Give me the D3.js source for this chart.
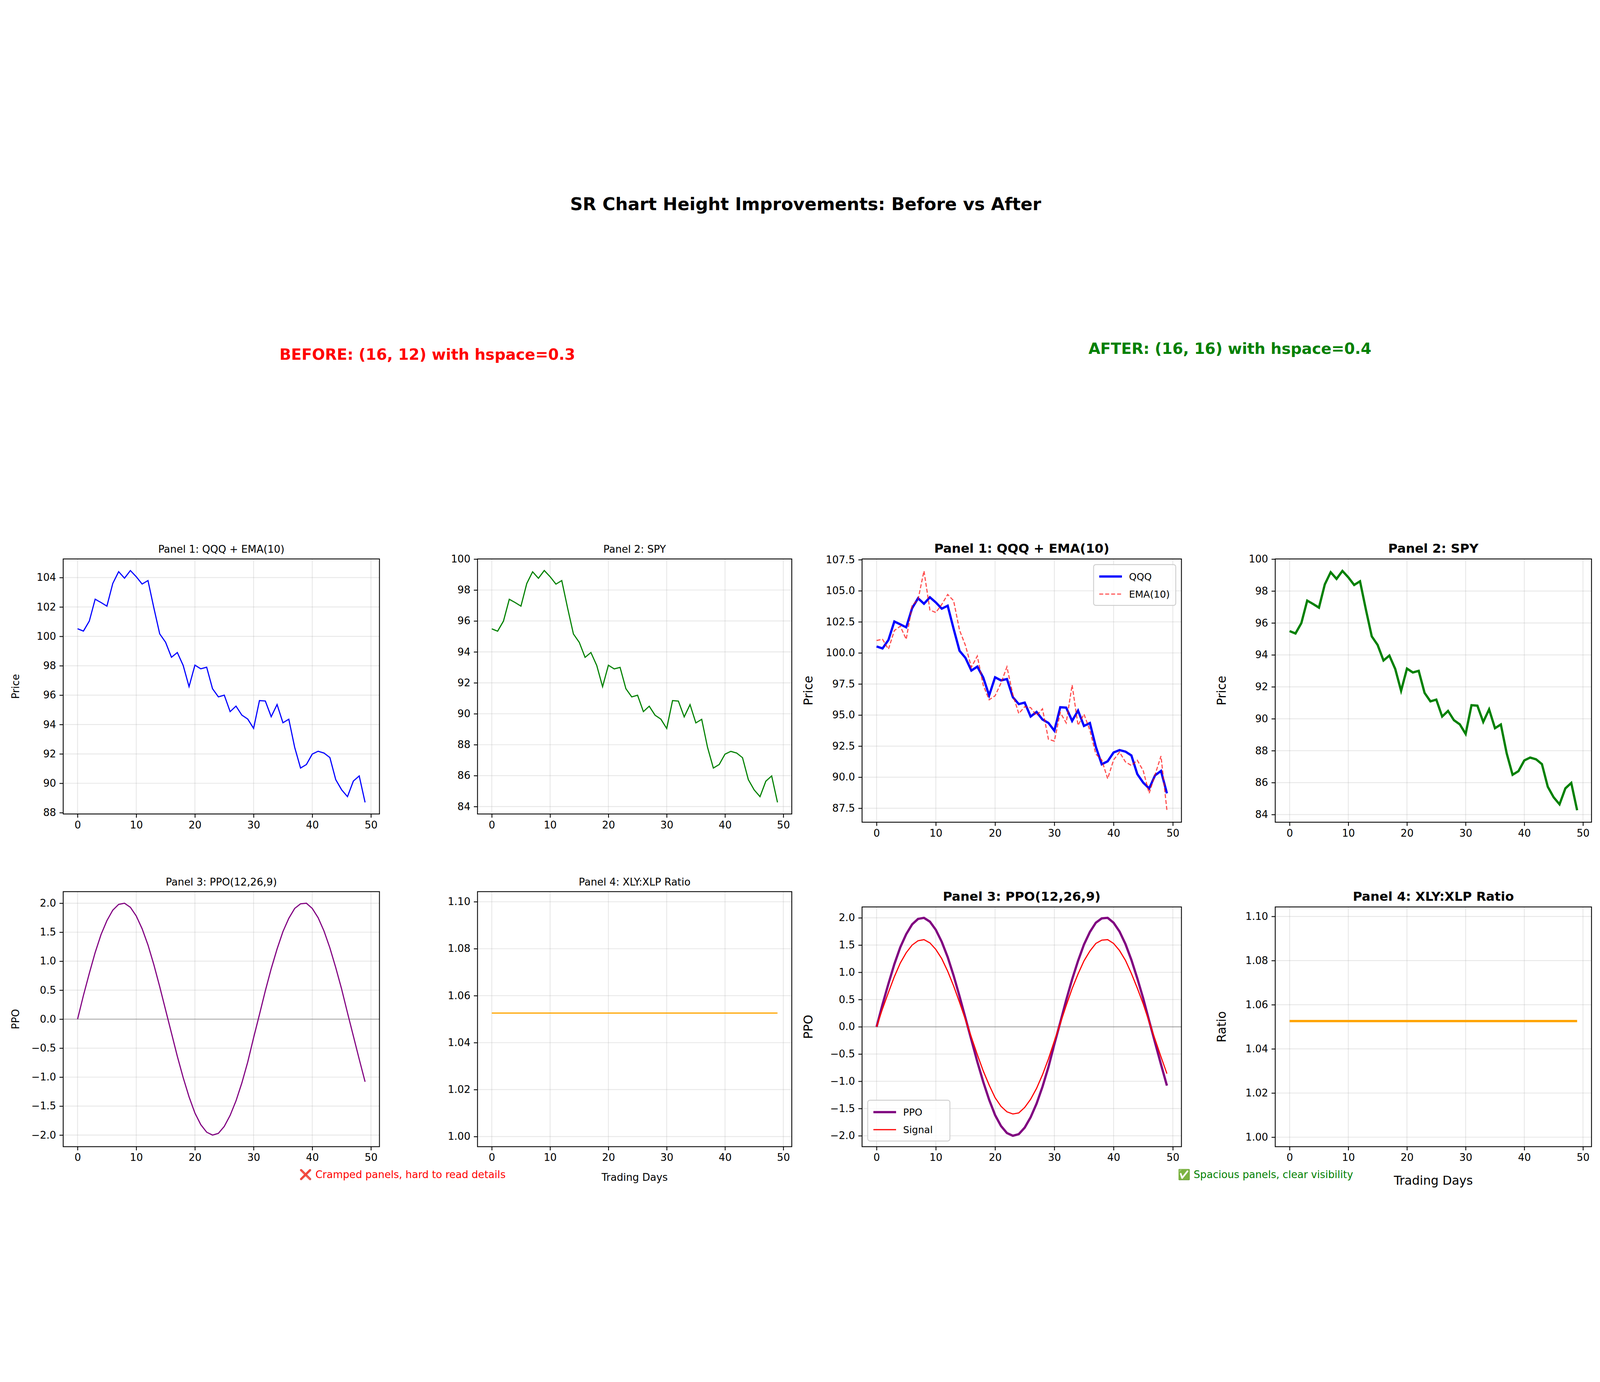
<!DOCTYPE html>
<html lang="en">
<head>
  <meta charset="UTF-8">
  <title>SR Chart Height Improvements</title>
  <script src="https://d3js.org/d3.v7.min.js"></script>
  <style>
    html, body { margin: 0; padding: 0; background: #fff; overflow: hidden; font-family: "DejaVu Sans", sans-serif; }
    svg { display: block; width: 100vw; height: 100vh; }
    .grid line { stroke: #b0b0b0; stroke-opacity: 0.3; stroke-width: 3; }
    .axis path, .axis line { stroke: #000; stroke-width: 3; }
    .axis text { font-family: "DejaVu Sans", sans-serif; fill: #000; }
  </style>
</head>
<body>
  <script>
    // ---- data ----
    const days = d3.range(50);
    const qqq = [100.52,100.36,101.04,102.53,102.3,102.06,103.6,104.4,103.96,104.48,
      104.06,103.56,103.8,101.94,100.17,99.6,98.58,98.9,98.02,96.58,
      98.04,97.79,97.9,96.44,95.88,96.0,94.88,95.25,94.64,94.37,
      93.74,95.63,95.6,94.53,95.36,94.12,94.36,92.45,91.04,91.28,
      91.99,92.18,92.06,91.75,90.25,89.56,89.09,90.15,90.5,88.7];
    const ema10 = [101.0,101.1,100.3,101.8,102.15,101.1,103.8,104.3,106.6,103.45,
      103.25,103.9,104.7,104.2,101.83,100.6,98.85,99.75,97.4,96.23,
      96.55,97.58,98.88,96.63,95.12,95.67,95.6,94.96,95.5,93.06,
      92.9,95.2,94.37,97.42,94.17,95.07,93.77,91.87,91.39,89.88,
      91.39,92.02,91.23,90.94,91.36,90.52,88.7,90.2,91.7,87.34];
    const spy = [95.49,95.34,95.99,97.4,97.19,96.96,98.42,99.18,98.76,99.26,
      98.86,98.38,98.61,96.84,95.16,94.62,93.65,93.96,93.12,91.75,
      93.14,92.9,93.0,91.62,91.09,91.2,90.14,90.49,89.91,89.65,
      89.05,90.85,90.82,89.8,90.59,89.41,89.64,87.83,86.49,86.72,
      87.39,87.57,87.46,87.16,85.74,85.08,84.64,85.64,85.98,84.27];
    const ppo = [0,0.41,0.79,1.15,1.46,1.70,1.88,1.98,2.00,1.93,
      1.78,1.56,1.28,0.94,0.56,0.16,-0.24,-0.64,-1.01,-1.34,
      -1.62,-1.82,-1.95,-2.00,-1.97,-1.85,-1.66,-1.41,-1.10,-0.74,
      -0.32,0.08,0.49,0.87,1.21,1.51,1.74,1.91,1.99,2.00,
      1.91,1.75,1.52,1.23,0.89,0.52,0.11,-0.29,-0.69,-1.08];
    const ppoSignal = [0,0.33,0.63,0.92,1.17,1.36,1.50,1.58,1.60,1.54,
      1.42,1.25,1.02,0.75,0.45,0.13,-0.19,-0.51,-0.81,-1.07,
      -1.30,-1.46,-1.56,-1.60,-1.58,-1.48,-1.33,-1.13,-0.88,-0.59,
      -0.26,0.06,0.39,0.70,0.97,1.21,1.39,1.53,1.59,1.60,
      1.53,1.40,1.22,0.98,0.71,0.42,0.09,-0.23,-0.55,-0.86];
    const ratio = [1.0526,1.0526,1.0526,1.0526,1.0526,1.0526,1.0526,1.0526,1.0526,1.0526,
      1.0526,1.0526,1.0526,1.0526,1.0526,1.0526,1.0526,1.0526,1.0526,1.0526,
      1.0526,1.0526,1.0526,1.0526,1.0526,1.0526,1.0526,1.0526,1.0526,1.0526,
      1.0526,1.0526,1.0526,1.0526,1.0526,1.0526,1.0526,1.0526,1.0526,1.0526,
      1.0526,1.0526,1.0526,1.0526,1.0526,1.0526,1.0526,1.0526,1.0526,1.0526];
    const xTicks = [0, 10, 20, 30, 40, 50];

    const W = 5646, H = 3538;
    const svg = d3.select("body").append("svg")
      .attr("viewBox", `0 0 ${W} ${H}`)
      .attr("preserveAspectRatio", "xMidYMid meet")
      .style("font-family", "'DejaVu Sans', sans-serif");

    // padded extent like matplotlib autoscale
    function padded(arrays) {
      const lo = d3.min(arrays, a => d3.min(a)), hi = d3.max(arrays, a => d3.max(a));
      const m = (hi - lo) * 0.05;
      return [lo - m, hi + m];
    }

    function panel(o) {
      const w = o.x1 - o.x0, h = o.y1 - o.y0;
      const g = svg.append("g").attr("transform", `translate(${o.x0},${o.y0})`);
      const x = d3.scaleLinear().domain([-2.45, 51.45]).range([0, w]);
      const y = d3.scaleLinear().domain(o.domain).range([h, 0]);

      g.append("g").attr("class", "grid").selectAll("line").data(xTicks).join("line")
        .attr("x1", d => x(d)).attr("x2", d => x(d)).attr("y1", 0).attr("y2", h);
      g.append("g").attr("class", "grid").selectAll("line").data(o.yTicks).join("line")
        .attr("x1", 0).attr("x2", w).attr("y1", d => y(d)).attr("y2", d => y(d));

      if (o.zero) {
        g.append("line").attr("x1", 0).attr("x2", w).attr("y1", y(0)).attr("y2", y(0))
          .attr("stroke", "gray").attr("stroke-opacity", 0.5).attr("stroke-width", 4);
      }

      const line = d3.line().x((d, i) => x(i)).y(d => y(d));
      o.series.forEach(s => {
        g.append("path").datum(s.data).attr("d", line).attr("fill", "none")
          .attr("stroke", s.color).attr("stroke-width", s.width)
          .attr("stroke-opacity", s.opacity || 1)
          .attr("stroke-dasharray", s.dash || null);
      });

      const xa = g.append("g").attr("class", "axis").attr("transform", `translate(0,${h})`)
        .call(d3.axisBottom(x).tickValues(xTicks).tickSize(13).tickPadding(12));
      const ya = g.append("g").attr("class", "axis")
        .call(d3.axisLeft(y).tickValues(o.yTicks).tickFormat(d3.format(o.fmt)).tickSize(13).tickPadding(12));
      [xa, ya].forEach(a => { a.select(".domain").remove(); a.selectAll("text").attr("font-size", 36); });

      g.append("rect").attr("width", w).attr("height", h).attr("fill", "none")
        .attr("stroke", "#000").attr("stroke-width", 3);

      g.append("text").attr("x", w / 2).attr("y", -22).attr("text-anchor", "middle")
        .attr("font-size", o.big ? 45 : 36).attr("font-weight", o.big ? "bold" : "normal")
        .text(o.title);
      if (o.ylabel) {
        g.append("text").attr("transform", `translate(${o.big ? -175 : -155},${h / 2}) rotate(-90)`)
          .attr("text-anchor", "middle").attr("font-size", o.big ? 43 : 36).text(o.ylabel);
      }
      if (o.xlabel) {
        g.append("text").attr("x", w / 2).attr("y", h + (o.big ? 135 : 120)).attr("text-anchor", "middle")
          .attr("font-size", o.big ? 43 : 36).text(o.xlabel);
      }
      if (o.legend) {
        const lw = 290, lh = o.legend.items.length * 62 + 20;
        const lx = o.legend.pos === "ur" ? w - lw - 20 : 20;
        const ly = o.legend.pos === "ur" ? 20 : h - lh - 20;
        const lg = g.append("g").attr("transform", `translate(${lx},${ly})`);
        lg.append("rect").attr("width", lw).attr("height", lh).attr("rx", 8)
          .attr("fill", "#fff").attr("fill-opacity", 0.8).attr("stroke", "#ccc").attr("stroke-width", 3);
        o.legend.items.forEach((it, i) => {
          const cy = 42 + i * 62;
          lg.append("line").attr("x1", 20).attr("x2", 100).attr("y1", cy).attr("y2", cy)
            .attr("stroke", it.color).attr("stroke-width", it.width)
            .attr("stroke-opacity", it.opacity || 1).attr("stroke-dasharray", it.dash || null);
          lg.append("text").attr("x", 125).attr("y", cy + 12).attr("font-size", 34).text(it.label);
        });
      }
    }

    const tk = (a, b, s) => d3.range(a, b + s / 2, s);

    // titles
    svg.append("text").attr("x", W / 2 + 20).attr("y", 72).attr("text-anchor", "middle")
      .attr("font-size", 62).attr("font-weight", "bold").text("SR Chart Height Improvements: Before vs After");
    svg.append("text").attr("x", 1508).attr("y", 600).attr("text-anchor", "middle")
      .attr("font-size", 54).attr("font-weight", "bold").attr("fill", "red")
      .text("BEFORE: (16, 12) with hspace=0.3");
    svg.append("text").attr("x", 4340).attr("y", 580).attr("text-anchor", "middle")
      .attr("font-size", 54).attr("font-weight", "bold").attr("fill", "green")
      .text("AFTER: (16, 16) with hspace=0.4");

    // BEFORE
    panel({x0: 223, x1: 1339, y0: 1303, y1: 2203, title: "Panel 1: QQQ + EMA(10)", ylabel: "Price",
      domain: padded([qqq]), yTicks: tk(88, 104, 2), fmt: "d",
      series: [{data: qqq, color: "blue", width: 4}]});
    panel({x0: 1685, x1: 2794, y0: 1303, y1: 2203, title: "Panel 2: SPY",
      domain: padded([spy]), yTicks: tk(84, 100, 2), fmt: "d",
      series: [{data: spy, color: "green", width: 4}]});
    panel({x0: 223, x1: 1339, y0: 2477, y1: 3377, title: "Panel 3: PPO(12,26,9)", ylabel: "PPO",
      domain: padded([ppo]), yTicks: tk(-2, 2, 0.5), fmt: ".1f", zero: true,
      series: [{data: ppo, color: "purple", width: 4}]});
    panel({x0: 1685, x1: 2794, y0: 2477, y1: 3377, title: "Panel 4: XLY:XLP Ratio", xlabel: "Trading Days",
      domain: [0.9957, 1.1043], yTicks: tk(1.0, 1.1, 0.02), fmt: ".2f",
      series: [{data: ratio, color: "orange", width: 4}]});

    // AFTER
    panel({x0: 3042, x1: 4169, y0: 1303, y1: 2232, big: true, title: "Panel 1: QQQ + EMA(10)", ylabel: "Price",
      domain: padded([qqq, ema10]), yTicks: tk(87.5, 107.5, 2.5), fmt: ".1f",
      series: [{data: qqq, color: "blue", width: 8},
               {data: ema10, color: "red", width: 4, opacity: 0.7, dash: "14,7"}],
      legend: {pos: "ur", items: [{label: "QQQ", color: "blue", width: 8},
               {label: "EMA(10)", color: "red", width: 4, opacity: 0.7, dash: "14,7"}]}});
    panel({x0: 4500, x1: 5616, y0: 1303, y1: 2232, big: true, title: "Panel 2: SPY", ylabel: "Price",
      domain: padded([spy]), yTicks: tk(84, 100, 2), fmt: "d",
      series: [{data: spy, color: "green", width: 8}]});
    panel({x0: 3042, x1: 4169, y0: 2531, y1: 3377, big: true, title: "Panel 3: PPO(12,26,9)", ylabel: "PPO",
      domain: padded([ppo]), yTicks: tk(-2, 2, 0.5), fmt: ".1f", zero: true,
      series: [{data: ppo, color: "purple", width: 8}, {data: ppoSignal, color: "red", width: 4}],
      legend: {pos: "ll", items: [{label: "PPO", color: "purple", width: 8},
               {label: "Signal", color: "red", width: 4}]}});
    panel({x0: 4500, x1: 5616, y0: 2531, y1: 3377, big: true, title: "Panel 4: XLY:XLP Ratio", ylabel: "Ratio",
      xlabel: "Trading Days", domain: [0.9957, 1.1043], yTicks: tk(1.0, 1.1, 0.02), fmt: ".2f",
      series: [{data: ratio, color: "orange", width: 8}]});

    // footers
    svg.append("text").attr("x", 1420).attr("y", 3488).attr("text-anchor", "middle")
      .attr("font-size", 36).attr("fill", "red").text("\u274C Cramped panels, hard to read details");
    svg.append("text").attr("x", 4465).attr("y", 3488).attr("text-anchor", "middle")
      .attr("font-size", 36).attr("fill", "green").text("\u2705 Spacious panels, clear visibility");
  </script>
</body>
</html>
